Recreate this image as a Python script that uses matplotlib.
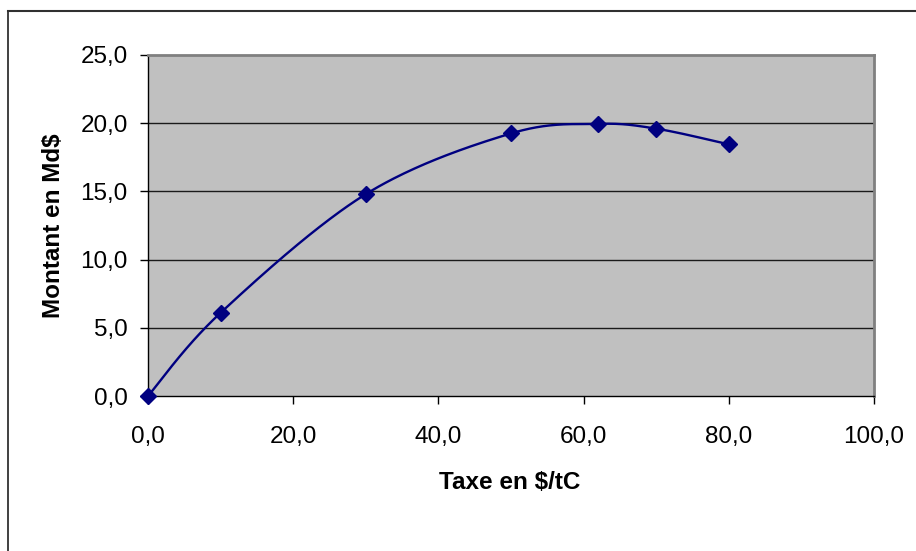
import numpy as np
import matplotlib
matplotlib.use("Agg")
import matplotlib.pyplot as plt
from matplotlib.lines import Line2D

# Data
taxe = [0.0, 10.0, 30.0, 50.0, 62.0, 70.0, 80.0]
montant = [0.0, 6.1, 14.8, 19.25, 19.95, 19.6, 18.45]
x_ticks = [0, 20, 40, 60, 80, 100]
y_ticks = [0, 5, 10, 15, 20, 25]
x_label = "Taxe en $/tC"
y_label = "Montant en Md$"

plt.rcParams['font.family'] = ['Liberation Sans', 'DejaVu Sans']

W, H = 916, 551
fig = plt.figure(figsize=(W / 100, H / 100), dpi=100)
fig.patch.set_facecolor('white')

L, R, T, B = 148, 874, 55, 396
ax = fig.add_axes([L / W, 1 - B / H, (R - L) / W, (B - T) / H])
ax.set_facecolor('#c0c0c0')
ax.set_xlim(0, 100)
ax.set_ylim(0, 25)

# gridlines
for yv in y_ticks[1:-1]:
    ax.axhline(yv, color='#1a1a1a', lw=1.0, zorder=1)

# smooth curve (Excel-like Bezier smoothing in pixel space)
sx = (R - L) / 100.0
sy = (B - T) / 25.0
P = np.column_stack([np.array(taxe) * sx, np.array(montant) * sy])
n = len(P)
curve = []
for i in range(n - 1):
    p0 = P[i - 1] if i > 0 else P[i]
    p1 = P[i]
    p2 = P[i + 1]
    p3 = P[i + 2] if i + 2 < n else P[i + 1]
    c1 = p1 + (p2 - p0) / 6.0
    c2 = p2 - (p3 - p1) / 6.0
    t = np.linspace(0, 1, 60)[:, None]
    seg = ((1 - t) ** 3) * p1 + 3 * ((1 - t) ** 2) * t * c1 + 3 * (1 - t) * t ** 2 * c2 + t ** 3 * p2
    curve.append(seg if i == 0 else seg[1:])
curve = np.vstack(curve)
ax.plot(curve[:, 0] / sx, curve[:, 1] / sy, color='#000080', lw=1.7, zorder=3, clip_on=False)
ax.plot(taxe, montant, linestyle='none', marker='D', ms=8, color='#000080',
        mec='#000080', zorder=4, clip_on=False)

# spines
for s in ['top', 'right']:
    ax.spines[s].set_color('#808080')
    ax.spines[s].set_linewidth(2.0)
for s in ['bottom', 'left']:
    ax.spines[s].set_color('black')
    ax.spines[s].set_linewidth(1.0)

ax.set_xticks(x_ticks)
ax.set_yticks(y_ticks)
ax.set_xticklabels([f"{v:.1f}".replace('.', ',') for v in x_ticks])
ax.set_yticklabels([f"{v:.1f}".replace('.', ',') for v in y_ticks])
ax.tick_params(axis='x', direction='out', length=6, width=1, pad=15.5, labelsize=17.5, colors='black')
ax.tick_params(axis='y', direction='out', length=6, width=1, pad=8.5, labelsize=17.5, colors='black')

fig.text(510 / W, 1 - 471 / H, x_label, ha='center', va='top', fontsize=17.5, fontweight='bold')
fig.text(54 / W, 1 - 226 / H, y_label, ha='center', va='center', rotation=90, fontsize=17.5, fontweight='bold')

# outer chart border (top and left visible)
fig.add_artist(Line2D([8 / W, 8 / W], [0, 1 - 11 / H], transform=fig.transFigure, color='#202020', lw=1.2))
fig.add_artist(Line2D([8 / W, 1], [1 - 11 / H, 1 - 11 / H], transform=fig.transFigure, color='#303030', lw=1.5))

fig.savefig('out.png', dpi=100)
